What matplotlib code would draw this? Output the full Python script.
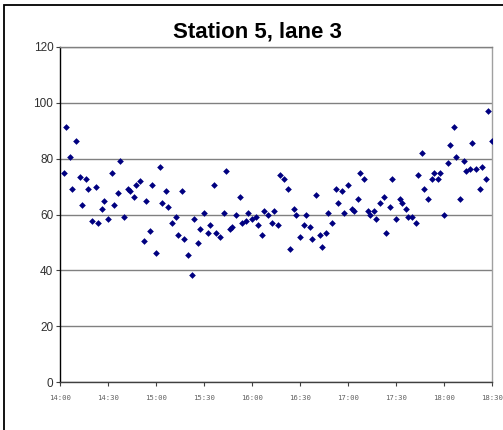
import matplotlib.pyplot as plt
from matplotlib.patches import Rectangle

# minutes after 14:00 and the measured values
minutes = [2.5, 3.75, 6.25, 7.5, 10, 12.5, 13.75, 16.25, 17.5, 20, 22.5, 23.75, 26.25, 27.5, 30,
           32.5, 33.75, 36.25, 37.5, 40, 42.5, 43.75, 46.25, 47.5, 50, 52.5, 53.75, 56.25, 57.5, 60,
           62.5, 63.75, 66.25, 67.5, 70, 72.5, 73.75, 76.25, 77.5, 80, 82.5, 83.75, 86.25, 87.5, 90,
           92.5, 93.75, 96.25, 97.5, 100, 102.5, 103.75, 106.25, 107.5, 110, 112.5, 113.75, 116.25, 117.5, 120,
           122.5, 123.75, 126.25, 127.5, 130, 132.5, 133.75, 136.25, 137.5, 140, 142.5, 143.75, 146.25, 147.5, 150,
           152.5, 153.75, 156.25, 157.5, 160, 162.5, 163.75, 166.25, 167.5, 170, 172.5, 173.75, 176.25, 177.5, 180,
           182.5, 183.75, 186.25, 187.5, 190, 192.5, 193.75, 196.25, 197.5, 200, 202.5, 203.75, 206.25, 207.5, 210,
           212.5, 213.75, 216.25, 217.5, 220, 222.5, 223.75, 226.25, 227.5, 230, 232.5, 233.75, 236.25, 237.5, 240,
           242.5, 243.75, 246.25, 247.5, 250, 252.5, 253.75, 256.25, 257.5, 260, 262.5, 263.75, 266.25, 267.5, 270]
values = [74.9, 91.3, 80.6, 69.1, 86.3, 73.4, 63.4, 72.7, 69.1, 57.7, 69.8, 57.0, 62.0, 64.8, 58.4,
          74.9, 63.4, 67.7, 79.1, 59.1, 69.1, 68.4, 66.3, 70.6, 72.0, 50.5, 64.8, 54.1, 70.6, 46.2,
          77.0, 64.1, 68.4, 62.7, 57.0, 59.1, 52.7, 68.4, 51.3, 45.5, 38.4, 58.4, 49.8, 54.8, 60.5,
          53.4, 56.3, 70.6, 53.4, 52.0, 60.5, 75.6, 54.8, 55.5, 59.8, 66.3, 57.0, 57.7, 60.5, 58.4,
          59.1, 56.3, 52.7, 61.3, 59.8, 57.0, 61.3, 56.3, 74.1, 72.7, 69.1, 47.7, 62.0, 59.8, 52.0,
          56.3, 59.8, 55.5, 51.3, 67.0, 52.7, 48.4, 53.4, 60.5, 57.0, 69.1, 64.1, 68.4, 60.5, 70.6,
          62.0, 61.3, 65.6, 74.9, 72.7, 61.3, 59.8, 61.3, 58.4, 64.1, 66.3, 53.4, 62.7, 72.7, 58.4,
          65.6, 64.1, 62.0, 59.1, 59.1, 57.0, 74.1, 82.0, 69.1, 65.6, 72.7, 74.9, 72.7, 74.9, 59.8,
          78.4, 84.9, 91.3, 80.6, 65.6, 79.1, 75.6, 76.3, 85.6, 76.3, 69.1, 77.0, 72.7, 97.0, 86.3]

tick_minutes = [0, 30, 60, 90, 120, 150, 180, 210, 240, 270]
tick_labels = ["14:00", "14:30", "15:00", "15:30", "16:00", "16:30", "17:00", "17:30", "18:00", "18:30"]

plt.rcParams['font.family'] = ['Liberation Sans', 'DejaVu Sans']

W, H = 503, 430
fig = plt.figure(figsize=(W / 100, H / 100), dpi=100)

# chart area border (Excel style)
fig.patches.append(Rectangle((4 / W, -0.1), 1.2, 1 - 5 / H + 0.1, transform=fig.transFigure,
                             fill=False, edgecolor='black', linewidth=1.3))

ax = fig.add_axes([60.3 / W, 1 - 382.3 / H, 432 / W, (382.3 - 46.7) / H])
ax.plot(minutes, values, linestyle='none', marker='D', markersize=3.4,
        color='#000080', markeredgewidth=0, zorder=3)

ax.set_xlim(0, 270)
ax.set_ylim(0, 120)
ax.set_yticks(range(0, 121, 20))
ax.yaxis.grid(True, color='#808080', linewidth=1.0)
ax.set_axisbelow(True)

ax.set_xticks(tick_minutes)
ax.set_xticklabels(tick_labels, fontsize=5.2, family='DejaVu Sans Mono', color='#606060')
ax.tick_params(axis='x', length=3, width=0.8, pad=6, color='#404040')
ax.tick_params(axis='y', length=3, width=0.8, pad=2, labelsize=8.5, labelcolor='#303030', color='#404040')

ax.spines['left'].set_color('black')
ax.spines['bottom'].set_color('#404040')
ax.spines['right'].set_color('#a0a0a0')
ax.spines['top'].set_color('#808080')
for s in ax.spines.values():
    s.set_linewidth(1.0)

fig.text(257 / W, 1 - 32 / H, "Station 5, lane 3", ha='center', va='center',
         fontsize=16, fontweight='bold')

fig.savefig('out.png', dpi=100)
